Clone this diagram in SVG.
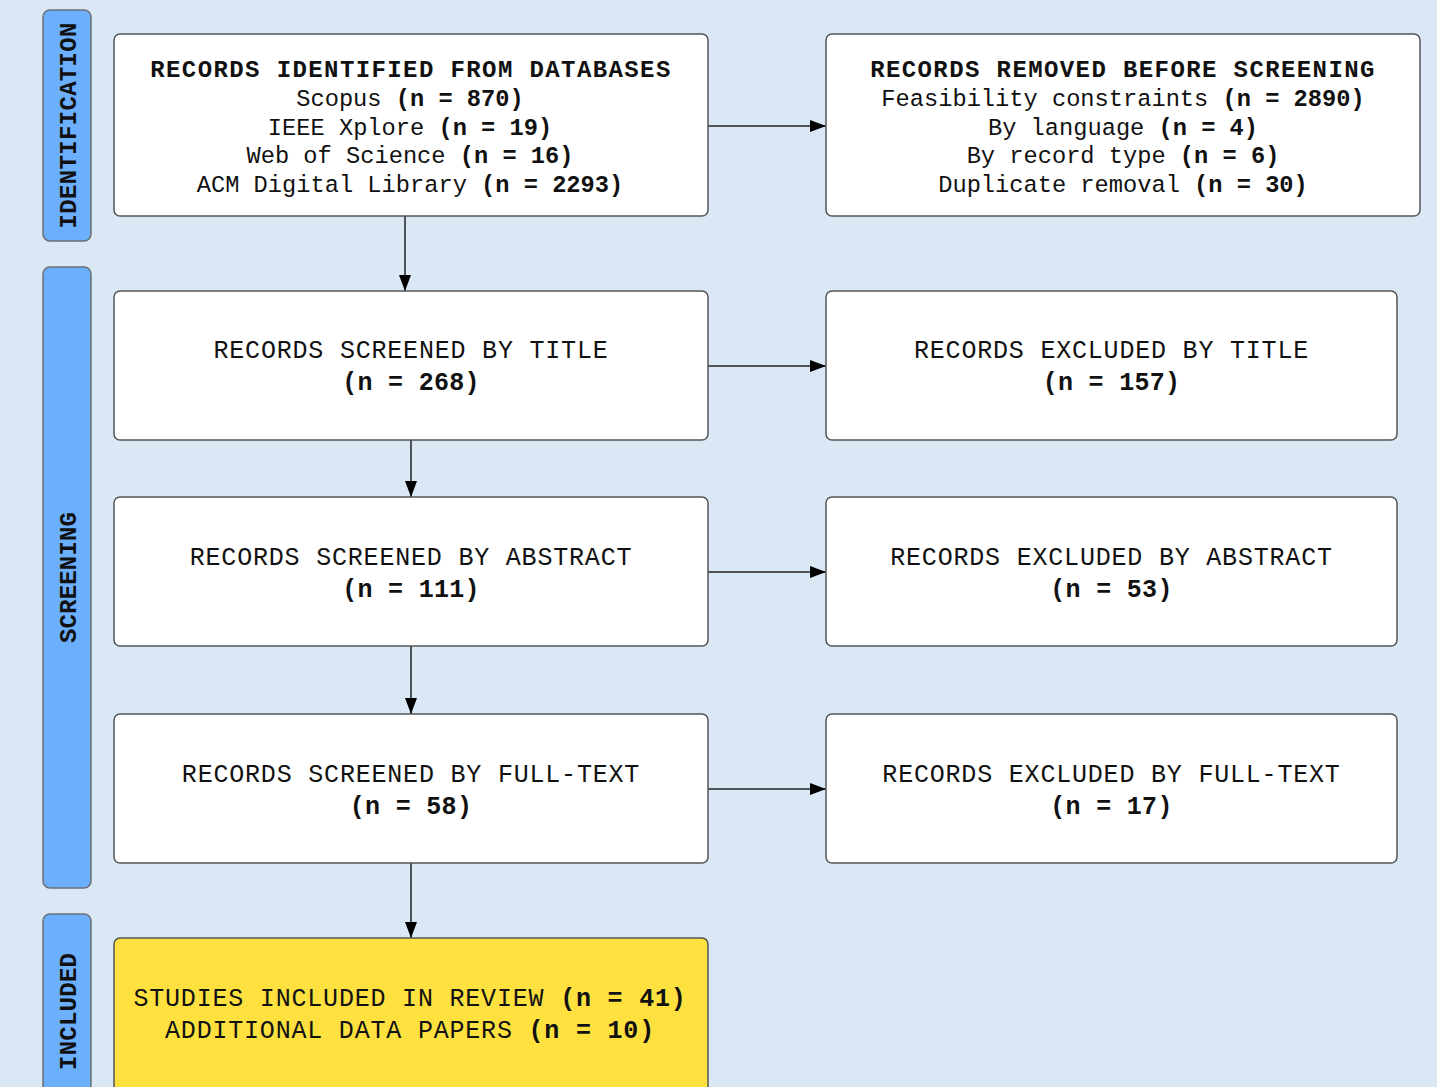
<svg xmlns="http://www.w3.org/2000/svg" width="1437" height="1087" viewBox="0 0 1437 1087">
<defs>
<marker id="arr" viewBox="0 0 16 12" refX="16" refY="6" markerWidth="16" markerHeight="12" markerUnits="userSpaceOnUse" orient="auto">
<path d="M0,0 L16,6 L0,12 Z" fill="#000"/>
</marker>
</defs>
<style>
.bg{fill:#dae8f5}
.band{fill:#6cb0fd;stroke:#6b6f75;stroke-width:1.5}
.box{fill:#ffffff;stroke:#555;stroke-width:1.5}
.yel{fill:#fee13f;stroke:#555;stroke-width:1.5}
.lbl{font-family:"Liberation Mono","DejaVu Sans Mono",monospace;font-weight:bold;font-size:24px;fill:#111}
.t{font-family:"Liberation Mono","DejaVu Sans Mono",monospace;fill:#111;text-anchor:middle}
.ttl{font-size:24px;font-weight:bold;letter-spacing:1.4px}
.body{font-size:23.7px}
.scr{font-size:25px;letter-spacing:0.8px}
.num{font-size:25px;font-weight:bold;letter-spacing:0.3px}
.b{font-weight:bold}
.conn line{stroke:#222;stroke-width:1.5;marker-end:url(#arr)}
</style>
<rect class="bg" x="0" y="0" width="1437" height="1087"/>

<g id="band-identification">
<rect class="band" x="43" y="10" width="48" height="231" rx="7"/>
<text class="lbl" transform="translate(69,125.5) rotate(-90)" text-anchor="middle" dominant-baseline="central" textLength="206" lengthAdjust="spacing">IDENTIFICATION</text>
</g>
<g id="band-screening">
<rect class="band" x="43" y="267" width="48" height="621" rx="7"/>
<text class="lbl" transform="translate(69,577.5) rotate(-90)" text-anchor="middle" dominant-baseline="central" textLength="131" lengthAdjust="spacing">SCREENING</text>
</g>
<g id="band-included">
<rect class="band" x="43" y="914" width="48" height="200" rx="7"/>
<text class="lbl" transform="translate(69,1011.5) rotate(-90)" text-anchor="middle" dominant-baseline="central" textLength="117" lengthAdjust="spacing">INCLUDED</text>
</g>

<g class="conn">
<line x1="405" y1="216" x2="405" y2="291"/>
<line x1="708" y1="126" x2="826" y2="126"/>
<line x1="411" y1="440" x2="411" y2="497"/>
<line x1="708" y1="366" x2="826" y2="366"/>
<line x1="411" y1="646" x2="411" y2="714"/>
<line x1="708" y1="572" x2="826" y2="572"/>
<line x1="411" y1="863" x2="411" y2="938"/>
<line x1="708" y1="789" x2="826" y2="789"/>
</g>

<g id="records-identified">
<rect class="box" x="114" y="34" width="594" height="182" rx="6"/>
<text class="t ttl" x="411" y="77">RECORDS IDENTIFIED FROM DATABASES</text>
<text class="t body" x="410" y="106">Scopus <tspan class="b">(n = 870)</tspan></text>
<text class="t body" x="410" y="134.5">IEEE Xplore <tspan class="b">(n = 19)</tspan></text>
<text class="t body" x="410" y="163">Web of Science <tspan class="b">(n = 16)</tspan></text>
<text class="t body" x="410" y="191.5">ACM Digital Library <tspan class="b">(n = 2293)</tspan></text>
</g>

<g id="records-removed">
<rect class="box" x="826" y="34" width="594" height="182" rx="6"/>
<text class="t ttl" x="1123" y="77">RECORDS REMOVED BEFORE SCREENING</text>
<text class="t body" x="1123" y="106">Feasibility constraints <tspan class="b">(n = 2890)</tspan></text>
<text class="t body" x="1123" y="134.5">By language <tspan class="b">(n = 4)</tspan></text>
<text class="t body" x="1123" y="163">By record type <tspan class="b">(n = 6)</tspan></text>
<text class="t body" x="1123" y="191.5">Duplicate removal <tspan class="b">(n = 30)</tspan></text>
</g>

<g id="screened-title">
<rect class="box" x="114" y="291" width="594" height="149" rx="6"/>
<text class="t scr" x="411" y="358">RECORDS SCREENED BY TITLE</text>
<text class="t num" x="411" y="390">(n = 268)</text>
</g>
<g id="excluded-title">
<rect class="box" x="826" y="291" width="571" height="149" rx="6"/>
<text class="t scr" x="1111.5" y="358">RECORDS EXCLUDED BY TITLE</text>
<text class="t num" x="1111.5" y="390">(n = 157)</text>
</g>

<g id="screened-abstract">
<rect class="box" x="114" y="497" width="594" height="149" rx="6"/>
<text class="t scr" x="411" y="565">RECORDS SCREENED BY ABSTRACT</text>
<text class="t num" x="411" y="597">(n = 111)</text>
</g>
<g id="excluded-abstract">
<rect class="box" x="826" y="497" width="571" height="149" rx="6"/>
<text class="t scr" x="1111.5" y="565">RECORDS EXCLUDED BY ABSTRACT</text>
<text class="t num" x="1111.5" y="597">(n = 53)</text>
</g>

<g id="screened-fulltext">
<rect class="box" x="114" y="714" width="594" height="149" rx="6"/>
<text class="t scr" x="411" y="782">RECORDS SCREENED BY FULL-TEXT</text>
<text class="t num" x="411" y="814">(n = 58)</text>
</g>
<g id="excluded-fulltext">
<rect class="box" x="826" y="714" width="571" height="149" rx="6"/>
<text class="t scr" x="1111.5" y="782">RECORDS EXCLUDED BY FULL-TEXT</text>
<text class="t num" x="1111.5" y="814">(n = 17)</text>
</g>

<g id="included">
<rect class="yel" x="114" y="938" width="594" height="170" rx="6"/>
<text class="t scr" x="410" y="1006">STUDIES INCLUDED IN REVIEW <tspan class="b">(n = 41)</tspan></text>
<text class="t scr" x="410" y="1038">ADDITIONAL DATA PAPERS <tspan class="b">(n = 10)</tspan></text>
</g>
</svg>
